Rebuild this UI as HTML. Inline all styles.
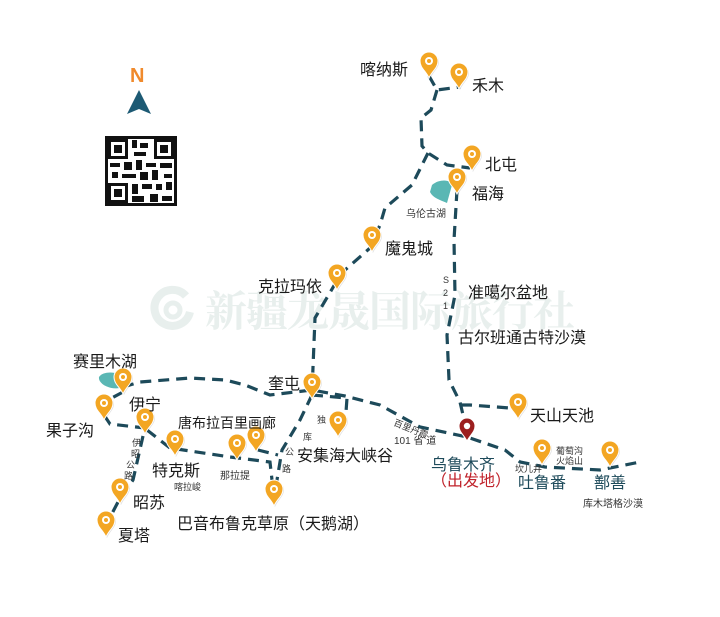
<!DOCTYPE html>
<html><head><meta charset="utf-8"><style>
html,body{margin:0;padding:0;background:#fff}
svg{display:block}
text{font-family:"Liberation Sans","Noto Sans CJK SC",sans-serif;fill:#1a1a1a}
.r{fill:none;stroke:#1d4a5a;stroke-width:3.2;stroke-dasharray:11 7}
.l{font-size:16px}
.s{font-size:9px;fill:#333}
</style></head><body>
<svg width="720" height="617" viewBox="0 0 720 617" xmlns="http://www.w3.org/2000/svg">
<defs>
<g id="p"><path d="M1,1 C-2,-6 -8,-10 -8,-16 A9,9 0 1,1 10,-16 C10,-10 4,-6 1,1Z" fill="#000" opacity="0.12"/><path d="M0,0 C-3,-7 -9,-10 -9,-17 A9,9 0 1,1 9,-17 C9,-10 3,-7 0,0Z" fill="#f3a623" stroke="#fff" stroke-width="1"/><circle cx="0" cy="-17" r="4" fill="#fff"/><circle cx="0" cy="-17" r="2" fill="#f3a623"/></g>
</defs>
<!-- watermark -->
<g>
<path d="M186,296 A18,18 0 1,0 190,312" fill="none" stroke="#e8efed" stroke-width="8"/>
<circle cx="173" cy="310" r="7" fill="none" stroke="#e8efed" stroke-width="5"/>
<text x="205" y="326" style="font-size:42px;font-weight:bold;fill:#e8efed;font-family:'Noto Serif CJK SC',serif" textLength="370">新疆龙晟国际旅行社</text>
</g>
<!-- N + QR -->
<text x="130" y="82" style="font-size:20px;font-weight:bold;fill:#f08a2c">N</text>
<path d="M139,90 L151,114 L139,109 L127,114Z" fill="#1d5a74"/>
<g fill="#111">
<rect x="105" y="136" width="72" height="70" fill="#111"/>
<rect x="108" y="139" width="66" height="64" fill="#fff"/>
<rect x="108" y="139" width="20" height="20"/><rect x="111" y="142" width="14" height="14" fill="#fff"/><rect x="114" y="145" width="8" height="8"/>
<rect x="154" y="139" width="20" height="20"/><rect x="157" y="142" width="14" height="14" fill="#fff"/><rect x="160" y="145" width="8" height="8"/>
<rect x="108" y="183" width="20" height="20"/><rect x="111" y="186" width="14" height="14" fill="#fff"/><rect x="114" y="189" width="8" height="8"/>
<rect x="132" y="140" width="5" height="8"/><rect x="140" y="143" width="8" height="5"/><rect x="134" y="152" width="12" height="4"/>
<rect x="110" y="163" width="10" height="4"/><rect x="124" y="162" width="8" height="8"/><rect x="136" y="160" width="6" height="10"/><rect x="146" y="163" width="10" height="4"/><rect x="160" y="163" width="12" height="5"/>
<rect x="112" y="172" width="6" height="6"/><rect x="122" y="174" width="14" height="4"/><rect x="140" y="172" width="8" height="8"/><rect x="152" y="170" width="6" height="10"/><rect x="164" y="174" width="8" height="4"/>
<rect x="132" y="184" width="6" height="10"/><rect x="142" y="184" width="10" height="5"/><rect x="156" y="184" width="6" height="6"/><rect x="166" y="182" width="6" height="8"/>
<rect x="132" y="196" width="12" height="6"/><rect x="150" y="194" width="8" height="8"/><rect x="162" y="196" width="10" height="5"/>
</g>
<!-- lakes -->
<path d="M432,185 C440,178 452,180 452,185 L447,203 C440,200 433,198 430,192Z" fill="#5ab7b4"/>
<path d="M99,377 C104,370 120,372 124,378 L120,388 C110,390 98,384 99,377Z" fill="#5ab7b4"/>
<!-- routes -->
<path class="r" d="M429,76 L437,90 L460,87 M437,90 L431,110 L421,118 L422,146 L428,153 L447,165 L470,168 M428,153 L412,185 L385,208 L380,225 L370,248 L345,270 L335,284 L315,318 L312,392"/>
<path class="r" d="M457,190 L454,240 L455,295 L447,335 L449,380 L460,402 L467,432 M461,405 L470,405 L510,408"/>
<path class="r" d="M123,387 L140,382 L190,378 L225,380 L245,385 L270,395 L312,390 L345,396 L380,405 L420,427 L467,437 L505,450 L520,462 L545,467 L600,470 L640,462"/>
<path class="r" d="M312,395 L300,420 L282,450 L275,492 M312,395 L347,398 L346,412"/>
<path class="r" d="M123,392 L108,400 M104,415 L110,424 L145,428 M147,430 L170,448 L230,457 L270,462 L272,480 M258,450 L278,455 M143,436 L133,480 L118,502 L106,525"/>
<!-- pins -->
<use href="#p" x="429" y="78"/><use href="#p" x="459" y="89"/><use href="#p" x="472" y="171"/><use href="#p" x="457" y="194"/>
<use href="#p" x="372" y="252"/><use href="#p" x="337" y="290"/><use href="#p" x="312" y="399"/><use href="#p" x="123" y="394"/>
<use href="#p" x="104" y="420"/><use href="#p" x="145" y="434"/><use href="#p" x="175" y="456"/><use href="#p" x="237" y="460"/>
<use href="#p" x="256" y="452"/><use href="#p" x="338" y="437"/><use href="#p" x="274" y="506"/><use href="#p" x="120" y="504"/>
<use href="#p" x="106" y="537"/><use href="#p" x="518" y="419"/><use href="#p" x="542" y="465"/><use href="#p" x="610" y="467"/>
<path d="M467,441 C464,435 459,432 459,426 A8,8 0 1,1 475,426 C475,432 470,435 467,441Z" fill="#9c1f1f" stroke="#fff" stroke-width="1"/><circle cx="467" cy="426" r="3.2" fill="#fff"/>
<!-- labels -->
<text class="l" x="360" y="75">喀纳斯</text>
<text class="l" x="472" y="91">禾木</text>
<text class="l" x="485" y="170">北屯</text>
<text class="l" x="472" y="199">福海</text>
<text class="s" x="406" y="217" style="font-size:10px">乌伦古湖</text>
<text class="l" x="385" y="254">魔鬼城</text>
<text class="l" x="258" y="292">克拉玛依</text>
<text class="s" x="443" y="283">S</text><text class="s" x="443" y="296">2</text><text class="s" x="443" y="309">1</text>
<text class="l" x="468" y="298">准噶尔盆地</text>
<text class="l" x="458" y="343">古尔班通古特沙漠</text>
<text class="l" x="73" y="367">赛里木湖</text>
<text class="l" x="268" y="389">奎屯</text>
<text class="l" x="129" y="410">伊宁</text>
<text class="l" x="530" y="421">天山天池</text>
<text class="l" x="46" y="436">果子沟</text>
<text class="l" x="178" y="428" style="font-size:14px">唐布拉百里画廊</text>
<text class="s" x="317" y="423">独</text><text class="s" x="303" y="440">库</text><text class="s" x="285" y="455">公</text><text class="s" x="282" y="472">路</text>
<text class="s" x="132" y="446">伊</text><text class="s" x="131" y="457">昭</text><text class="s" x="126" y="468">公</text><text class="s" x="124" y="479">路</text>
<text class="l" x="297" y="461">安集海大峡谷</text>
<text class="s" x="393" y="425" transform="rotate(22 393 425)">百里丹霞</text>
<text class="s" x="394" y="444" style="font-size:10px">101 省 道</text>
<text class="l" x="152" y="476">特克斯</text>
<text class="s" x="174" y="490">喀拉峻</text>
<text class="s" x="220" y="479" style="font-size:10px">那拉提</text>
<text class="l" x="431" y="470" style="fill:#1d4a5a">乌鲁木齐</text>
<text class="l" x="431" y="486" style="fill:#c0232b">（出发地）</text>
<text class="s" x="515" y="472">坎儿井</text>
<text class="s" x="556" y="454">葡萄沟</text><text class="s" x="556" y="464">火焰山</text>
<text class="l" x="518" y="488" style="fill:#1d4a5a">吐鲁番</text>
<text class="l" x="594" y="488" style="fill:#1d4a5a">鄯善</text>
<text class="s" x="583" y="507" style="font-size:10px">库木塔格沙漠</text>
<text class="l" x="133" y="508">昭苏</text>
<text class="l" x="118" y="541">夏塔</text>
<text class="l" x="177" y="529">巴音布鲁克草原（天鹅湖）</text>
</svg>
</body></html>
